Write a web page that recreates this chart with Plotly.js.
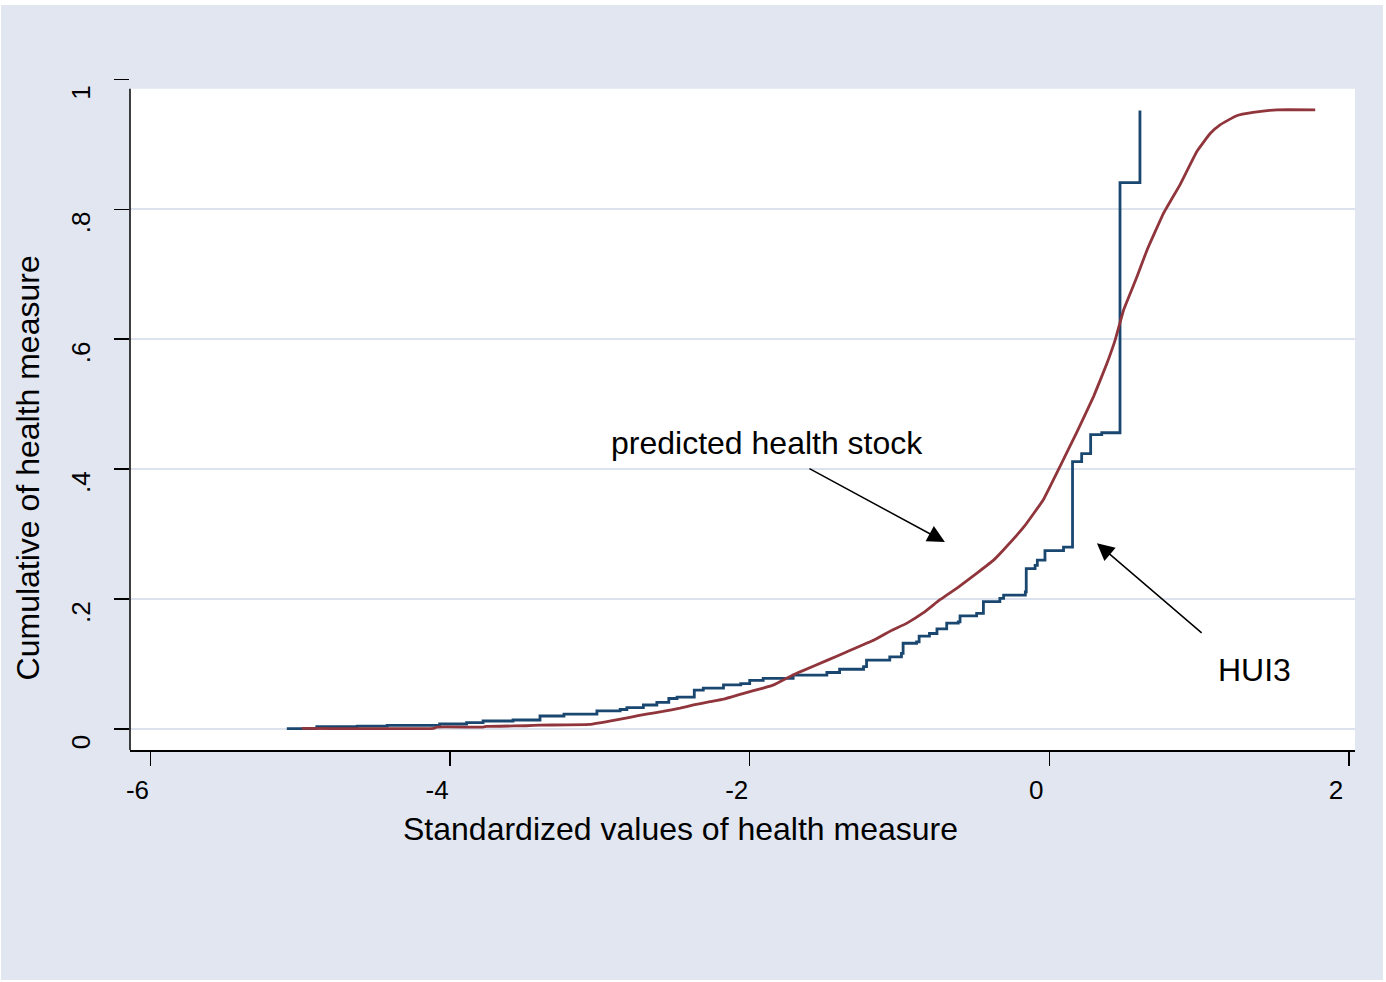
<!DOCTYPE html>
<html>
<head>
<meta charset="utf-8">
<script src="https://cdn.plot.ly/plotly-3.0.1.min.js"></script>
<style>
  html, body { margin: 0; padding: 0; background: #ffffff; }
  #chart { position: absolute; left: 1px; top: 5px; width: 1382px; height: 975px; }
</style>
</head>
<body>
<div id="chart"></div>
<script>
// HUI3 empirical cumulative distribution (step points)
const hui3X = [-5.09, -4.89, -4.62, -4.42, -4.07, -3.89, -3.78, -3.58, -3.40, -3.24, -3.02, -2.865, -2.82, -2.71, -2.62, -2.54, -2.485, -2.37, -2.31, -2.175, -2.06, -2.0, -1.91, -1.71, -1.485, -1.40, -1.24, -1.22, -1.065, -0.987, -0.976, -0.886, -0.869, -0.80, -0.75, -0.685, -0.608, -0.596, -0.485, -0.44, -0.33, -0.305, -0.16, -0.154, -0.095, -0.08, -0.029, 0.095, 0.155, 0.216, 0.276, 0.35, 0.472, 0.605];
const hui3Y = [0.0005, 0.0035, 0.0046, 0.0057, 0.0077, 0.0097, 0.0123, 0.0139, 0.020, 0.023, 0.028, 0.030, 0.033, 0.037, 0.041, 0.047, 0.049, 0.060, 0.063, 0.068, 0.070, 0.075, 0.078, 0.083, 0.087, 0.092, 0.096, 0.106, 0.111, 0.1165, 0.132, 0.134, 0.143, 0.147, 0.154, 0.163, 0.165, 0.174, 0.178, 0.196, 0.201, 0.206, 0.211, 0.247, 0.252, 0.26, 0.2745, 0.280, 0.4115, 0.424, 0.453, 0.456, 0.841, 0.952];

// Predicted health stock cumulative distribution
const predX = [-4.99, -4.11, -4.09, -3.78, -3.755, -3.49, -3.40, -3.07, -2.89, -2.80, -2.69, -2.58, -2.465, -2.375, -2.265, -2.175, -2.04, -1.91, -1.84, -1.73, -1.664, -1.48, -1.35, -1.17, -1.06, -0.95, -0.84, -0.73, -0.616, -0.483, -0.372, -0.305, -0.17, -0.04, 0.071, 0.18, 0.296, 0.385, 0.44, 0.496, 0.585, 0.652, 0.763, 0.873, 0.985, 1.075, 1.14, 1.25, 1.36, 1.52, 1.775];
const predY = [0.001, 0.001, 0.003, 0.003, 0.004, 0.005, 0.006, 0.007, 0.014, 0.018, 0.023, 0.027, 0.032, 0.037, 0.042, 0.046, 0.055, 0.063, 0.068, 0.081, 0.088, 0.106, 0.119, 0.137, 0.151, 0.163, 0.179, 0.199, 0.217, 0.240, 0.260, 0.276, 0.311, 0.353, 0.404, 0.455, 0.512, 0.563, 0.599, 0.645, 0.696, 0.737, 0.794, 0.838, 0.889, 0.917, 0.930, 0.944, 0.949, 0.953, 0.953];

// Axis ticks
const xTickVals = [-6, -4, -2, 0, 2];
const xTickText = ['-6', '-4', '-2', '0', '2'];
const yTickVals = [0, 0.2, 0.4, 0.6, 0.8, 1];
const yTickText = ['0', '.2', '.4', '.6', '.8', '1'];

// Labels
const xTitle = 'Standardized values of health measure';
const yTitle = 'Cumulative of health measure';
const labelPred = 'predicted health stock';
const labelHui = 'HUI3';

const FONT = 'Liberation Sans, Arial, Helvetica, sans-serif';
const BG = '#e1e6f0';
const GRID = '#dde3ee';
const BLUE = '#1a476f';
const RED = '#90353b';

const traces = [
  { x: hui3X, y: hui3Y, type: 'scatter', mode: 'lines', name: labelHui,
    line: { color: BLUE, width: 2.8, shape: 'hv' }, hoverinfo: 'skip' },
  { x: predX, y: predY, type: 'scatter', mode: 'lines', name: labelPred,
    line: { color: RED, width: 2.8, shape: 'spline', smoothing: 0.3 }, hoverinfo: 'skip' }
];

const whiteTop = 0.9854; // paper fraction where white plot region ends
const layout = {
  width: 1382, height: 975,
  margin: { l: 129, r: 28, t: 74.2, b: 230, pad: 0 },
  paper_bgcolor: BG,
  plot_bgcolor: BG,
  showlegend: false,
  font: { family: FONT, color: '#000000' },
  xaxis: {
    range: [-6.137, 2.0407], tickvals: xTickVals, ticktext: xTickText,
    showgrid: false, zeroline: false,
    showline: true, linecolor: '#000000', linewidth: 1.5,
    ticks: 'outside', ticklen: 14, tickwidth: 1.5, tickcolor: '#000000',
    tickfont: { family: FONT, size: 26, color: '#000000' },
    ticklabelshift: -13, ticklabelstandoff: 2
  },
  yaxis: {
    range: [-0.0323, 1.0005], tickvals: yTickVals, ticktext: yTickText,
    showgrid: true, gridcolor: GRID, gridwidth: 2, zeroline: false,
    showline: false,
    ticks: 'outside', ticklen: 15, tickwidth: 1.5, tickcolor: '#000000',
    tickangle: -90,
    tickfont: { family: FONT, size: 26, color: '#000000' },
    ticklabelshift: 17, ticklabelstandoff: 14
  },
  shapes: [
    { type: 'rect', xref: 'paper', yref: 'paper', x0: 0, x1: 1, y0: 0, y1: whiteTop,
      fillcolor: '#ffffff', line: { width: 0 }, layer: 'below' },
    { type: 'line', xref: 'paper', yref: 'paper', x0: 0, x1: 0, y0: 0, y1: whiteTop,
      line: { color: '#000000', width: 1.5 } }
  ],
  annotations: [
    { xref: 'paper', yref: 'paper', x: 0.449, y: -0.1178, text: xTitle, showarrow: false,
      xanchor: 'center', yanchor: 'middle', font: { family: FONT, size: 32, color: '#000000' } },
    { xref: 'paper', yref: 'paper', x: -0.0833, y: 0.4211, text: yTitle, showarrow: false, textangle: -90,
      xanchor: 'center', yanchor: 'middle', font: { family: FONT, size: 32, color: '#000000' } },
    { xref: 'x', yref: 'y', x: -1.885, y: 0.440, text: labelPred, showarrow: false,
      xanchor: 'center', yanchor: 'middle', font: { family: FONT, size: 32, color: '#000000' } },
    { xref: 'x', yref: 'y', x: 1.367, y: 0.0908, text: labelHui, showarrow: false,
      xanchor: 'center', yanchor: 'middle', font: { family: FONT, size: 32, color: '#000000' } },
    { xref: 'x', yref: 'y', x: -0.697, y: 0.288, axref: 'x', ayref: 'y', ax: -1.611, ay: 0.402,
      text: '', showarrow: true, arrowhead: 2, arrowsize: 2.3, arrowwidth: 1.5, arrowcolor: '#000000', standoff: 0 },
    { xref: 'x', yref: 'y', x: 0.318, y: 0.286, axref: 'x', ayref: 'y', ax: 1.027, ay: 0.146,
      text: '', showarrow: true, arrowhead: 2, arrowsize: 2.3, arrowwidth: 1.5, arrowcolor: '#000000', standoff: 0 }
  ]
};

Plotly.newPlot('chart', traces, layout, { displayModeBar: false, staticPlot: true });
</script>
</body>
</html>
